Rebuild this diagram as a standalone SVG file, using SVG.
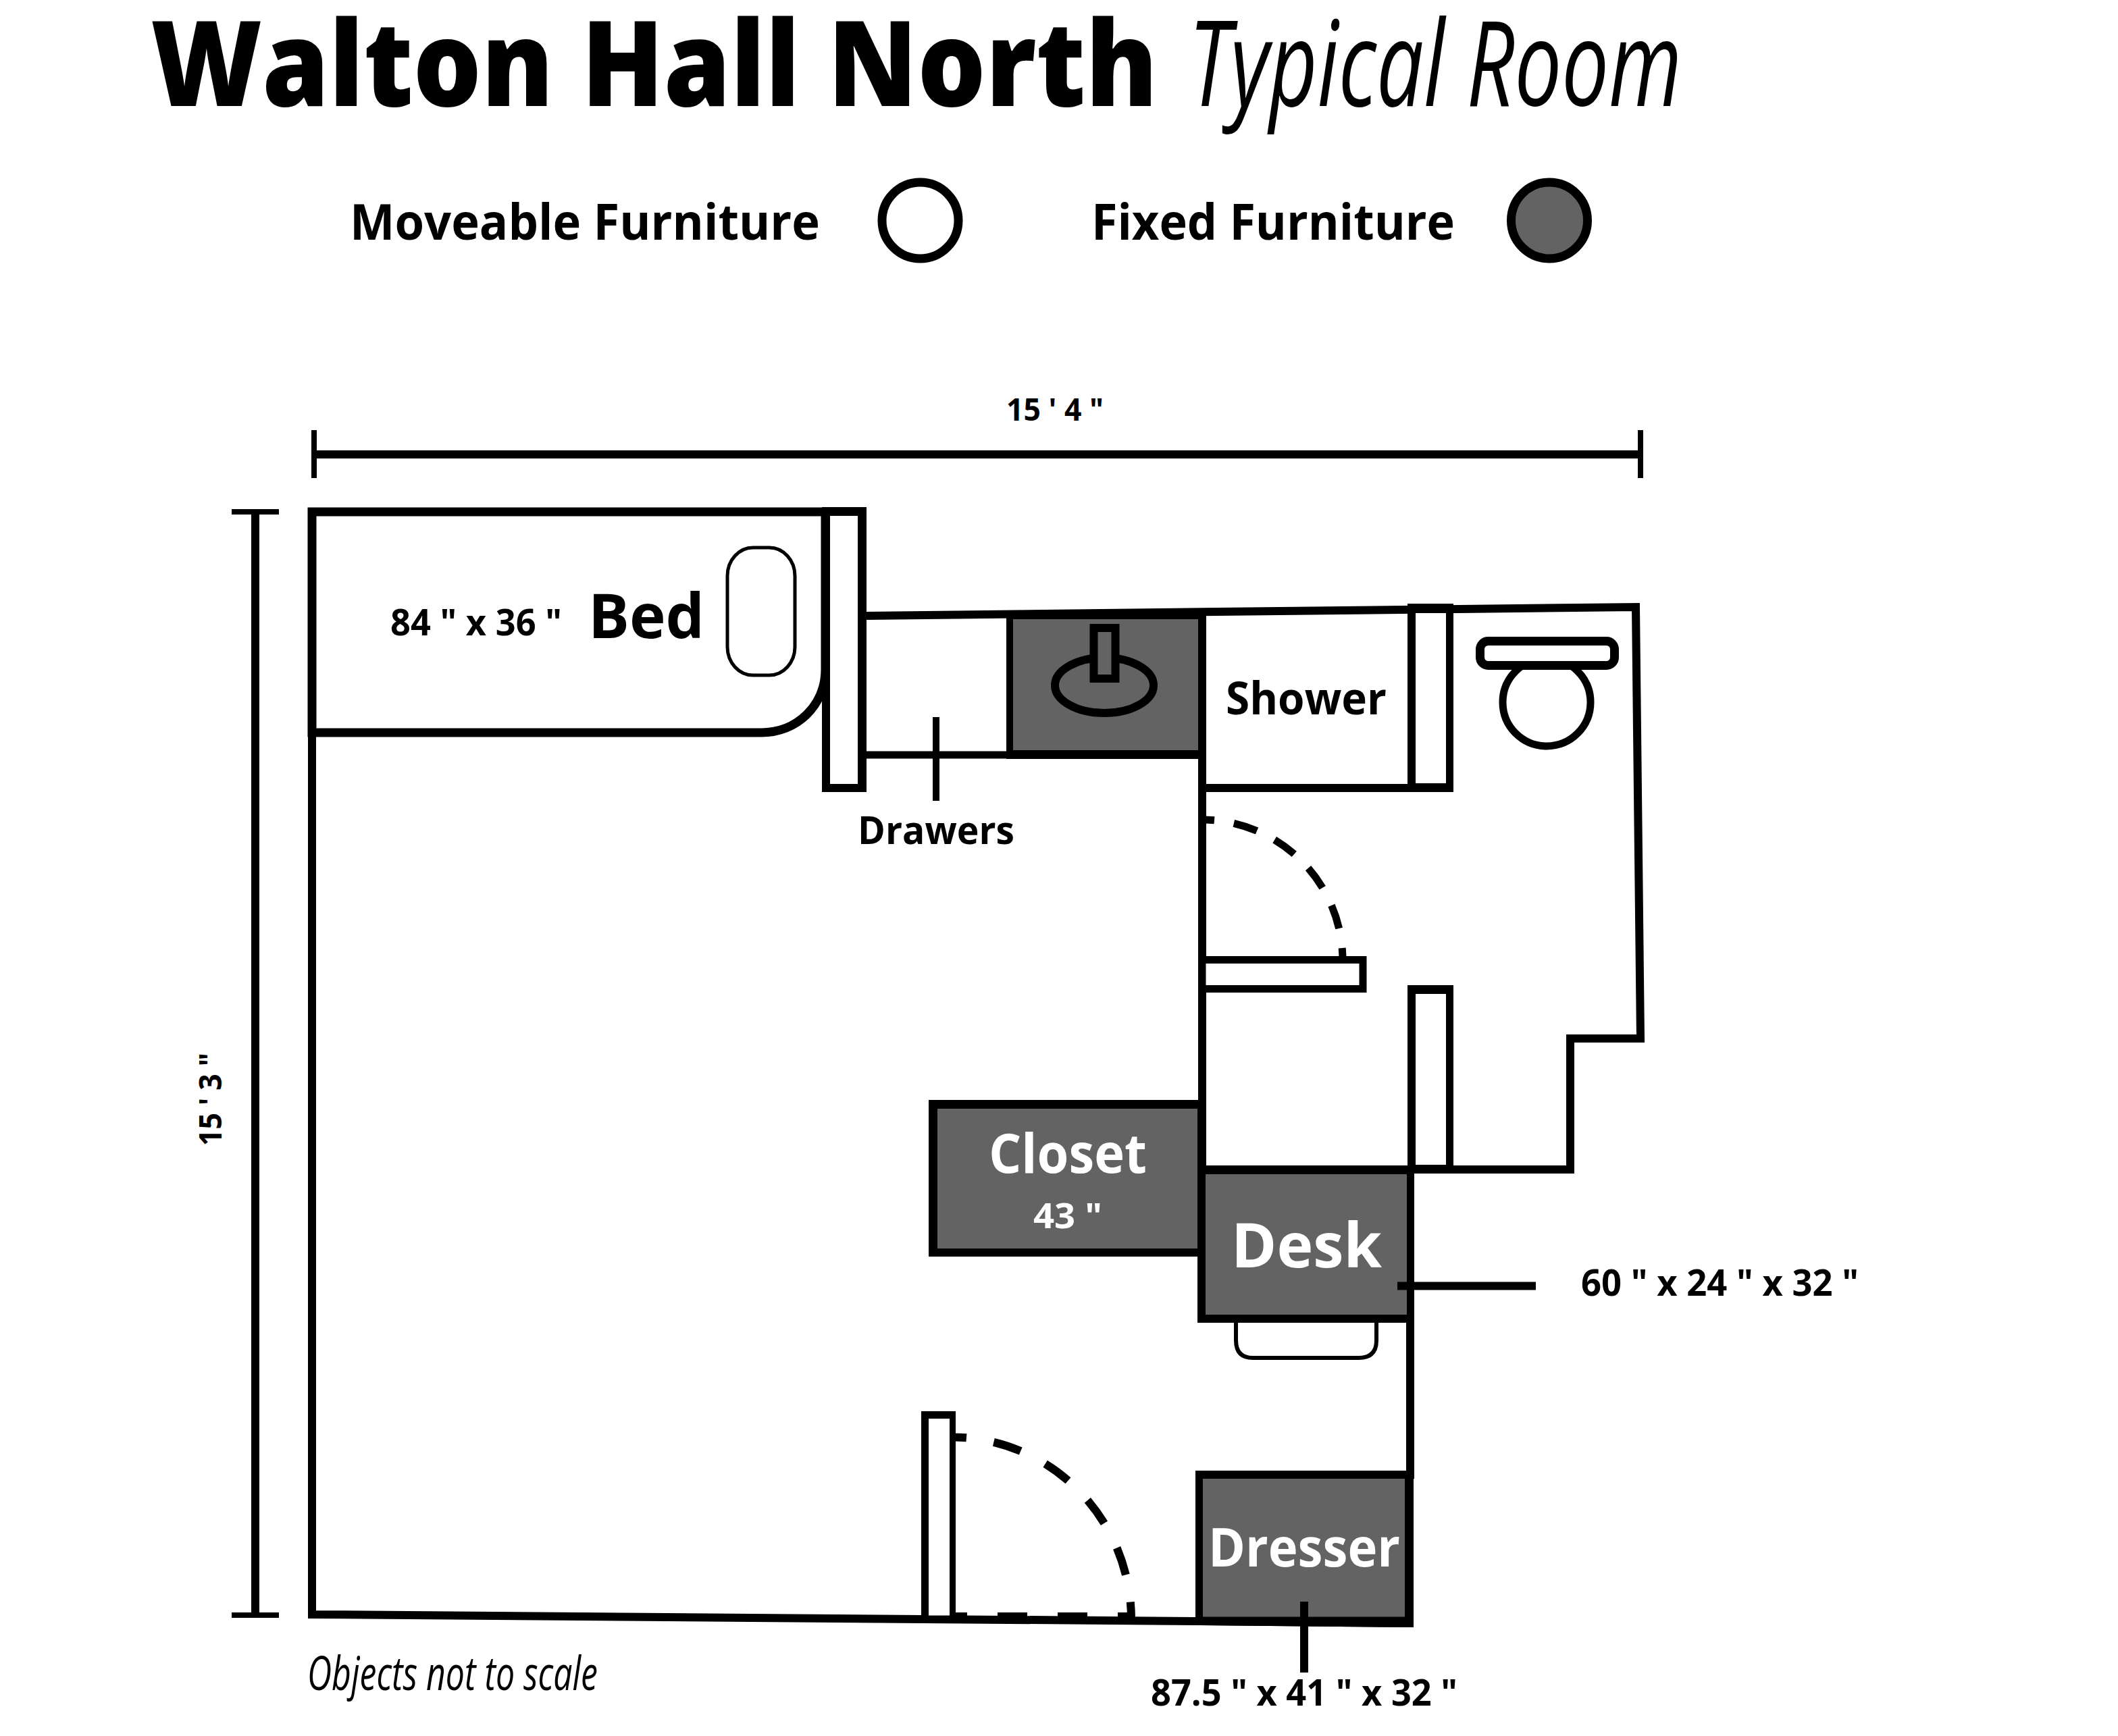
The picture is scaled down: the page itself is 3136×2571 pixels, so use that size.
<svg xmlns="http://www.w3.org/2000/svg" width="3136" height="2571" viewBox="0 0 3136 2571">
<style>
text{font-family:"Open Sans","Noto Sans","Liberation Sans",sans-serif;font-weight:700;fill:#000}
.w{fill:#fff}
.i{font-weight:400;font-style:italic}
.k{fill:#000}
.g{fill:#636363}
.l{fill:none;stroke:#000;stroke-width:12}
.d{fill:none;stroke:#000;stroke-width:12}
</style>
<rect width="3136" height="2571" fill="#fff"/>
<g id="title">
<text x="223" y="157" font-size="176" style="font-weight:800" textLength="1491" lengthAdjust="spacingAndGlyphs">Walton Hall North</text>
<text class="i" x="1760" y="157" font-size="176" textLength="730" lengthAdjust="spacingAndGlyphs">Typical Room</text>
</g>
<g id="legend-moveable">
<text x="518" y="355" font-size="74" textLength="696" lengthAdjust="spacingAndGlyphs">Moveable Furniture</text>
<circle cx="1362.500" cy="326.500" r="56.500" fill="#fff" stroke="#000" stroke-width="13"/>
</g>
<g id="legend-fixed">
<text x="1616" y="355" font-size="74" textLength="538" lengthAdjust="spacingAndGlyphs">Fixed Furniture</text>
<circle cx="2294" cy="326.500" r="56.500" fill="#636363" stroke="#000" stroke-width="13"/>
</g>
<g id="room-walls">
<path class="l" d="M462 758V2391L1770 2401"/>
<path class="l" d="M1283 912L2422 899L2429 1538H2325V1732H1780"/>
<path class="l" d="M1780 905V1732"/>
<path class="l" d="M2088 1950V2190"/>
<path class="l" d="M1770 2401L2088 2404"/>
</g>
<g id="bed">
<path d="M462 758H1222V991C1222 1045 1180 1085 1127 1085H462Z" fill="#fff" stroke="#000" stroke-width="13"/>
<rect x="1077" y="811" width="100" height="189" rx="38" ry="42" fill="#fff" stroke="#000" stroke-width="5"/>
<text x="871" y="945" font-size="92" textLength="172" lengthAdjust="spacingAndGlyphs">Bed</text>
<text x="578" y="941" font-size="54" textLength="254" lengthAdjust="spacingAndGlyphs">84 " x 36 "</text>
</g>
<g id="wardrobe-bar">
<rect class="k" x="1217" y="751" width="66" height="422"/>
<rect class="w" x="1229" y="764" width="41" height="397"/>
</g>
<g id="drawers">
<path d="M1283 1118H1490" stroke="#000" stroke-width="11" fill="none"/>
<text x="1270" y="1250" font-size="58" textLength="232" lengthAdjust="spacingAndGlyphs">Drawers</text>
</g>
<g id="sink">
<rect class="k" x="1490" y="906" width="295" height="218"/>
<rect class="g" x="1500" y="917" width="274" height="194"/>
<ellipse cx="1635" cy="1015" rx="73" ry="41" fill="#636363" stroke="#000" stroke-width="12"/>
<rect x="1619.500" y="930" width="32" height="75" fill="#636363" stroke="#000" stroke-width="12"/>
</g>
<g id="shower">
<path class="l" d="M1785 1167H2084"/>
<text x="1815" y="1058" font-size="66" textLength="238" lengthAdjust="spacingAndGlyphs">Shower</text>
<rect class="k" x="2084" y="894" width="68" height="279"/>
<rect class="w" x="2096" y="908" width="45" height="252"/>
</g>
<g id="toilet">
<circle cx="2290" cy="1040" r="65" fill="#fff" stroke="#000" stroke-width="11"/>
<rect x="2191.500" y="949.500" width="199" height="36" rx="12" fill="#fff" stroke="#000" stroke-width="13"/>
</g>
<g id="bathroom-door">
<rect x="1780" y="1421.500" width="238" height="43" fill="#fff" stroke="#000" stroke-width="11"/>
<path class="d" d="M1780 1214A208 208 0 0 1 1988 1422" stroke-dasharray="36 29.3" stroke-dashoffset="18" style="stroke-width:11"/>
</g>
<g id="bathroom-wall-bar">
<rect class="k" x="2084" y="1459" width="68" height="279"/>
<rect class="w" x="2096" y="1472" width="45" height="253"/>
</g>
<g id="closet">
<rect class="k" x="1375" y="1629" width="410" height="232"/>
<rect class="g" x="1388" y="1642" width="385" height="207"/>
<text x="1464" y="1737" font-size="80" class="w" textLength="234" lengthAdjust="spacingAndGlyphs">Closet</text>
<text x="1530" y="1819" font-size="52" class="w" textLength="102" lengthAdjust="spacingAndGlyphs">43 "</text>
</g>
<g id="chair">
<path d="M1830 1950V1985Q1830 2011 1855 2011H2012Q2038 2011 2038 1985V1950" fill="#fff" stroke="#000" stroke-width="6"/>
</g>
<g id="desk">
<rect class="k" x="1773" y="1727" width="321" height="232"/>
<rect class="g" x="1785" y="1739" width="298" height="208"/>
<text x="1823" y="1877" font-size="92" class="w" textLength="223" lengthAdjust="spacingAndGlyphs">Desk</text>
<text x="2341" y="1919" font-size="53" textLength="411" lengthAdjust="spacingAndGlyphs">60 " x 24 " x 32 "</text>
</g>
<g id="dresser">
<path class="k" d="M1770 2178H2093V2410L1770 2407Z"/>
<rect class="g" x="1781" y="2190" width="299" height="204.500"/>
<text x="1789" y="2320" font-size="78" class="w" textLength="284" lengthAdjust="spacingAndGlyphs">Dresser</text>
<text x="1704" y="2526" font-size="54" textLength="454" lengthAdjust="spacingAndGlyphs">87.5 " x 41 " x 32 "</text>
</g>
<g id="entry-door">
<rect class="k" x="1364" y="2090" width="51" height="308"/>
<rect class="w" x="1375" y="2101" width="31" height="291.500"/>
<path class="d" d="M1410 2128.500A265 270 0 0 1 1675 2398" stroke-dasharray="42 41" stroke-dashoffset="21"/>
<path class="d" d="M1410 2394H1675" stroke-dasharray="44 45" stroke-dashoffset="22"/>
</g>
<g id="connectors">
<path class="l" d="M466 673H2429"/>
<path class="l" d="M465 637V708M2429 637V708" style="stroke-width:8"/>
<path class="l" d="M378 758V2392"/>
<path class="l" d="M343 758H413M343 2392H413" style="stroke-width:8"/>
<path class="l" d="M1386 1062V1186" style="stroke-width:10"/>
<path class="l" d="M2069 1904.500H2274"/>
<path class="l" d="M1931 2372V2477"/>
</g>
<g id="dimensions">
<text x="1490" y="623" font-size="47" textLength="144" lengthAdjust="spacingAndGlyphs">15 ' 4 "</text>
<text transform="rotate(-90 328 1697)" x="328" y="1697" font-size="46" textLength="138" lengthAdjust="spacingAndGlyphs">15 ' 3 "</text>
<text class="i" x="455" y="2503" font-size="70" textLength="430" lengthAdjust="spacingAndGlyphs">Objects not to scale</text>
</g>
</svg>
